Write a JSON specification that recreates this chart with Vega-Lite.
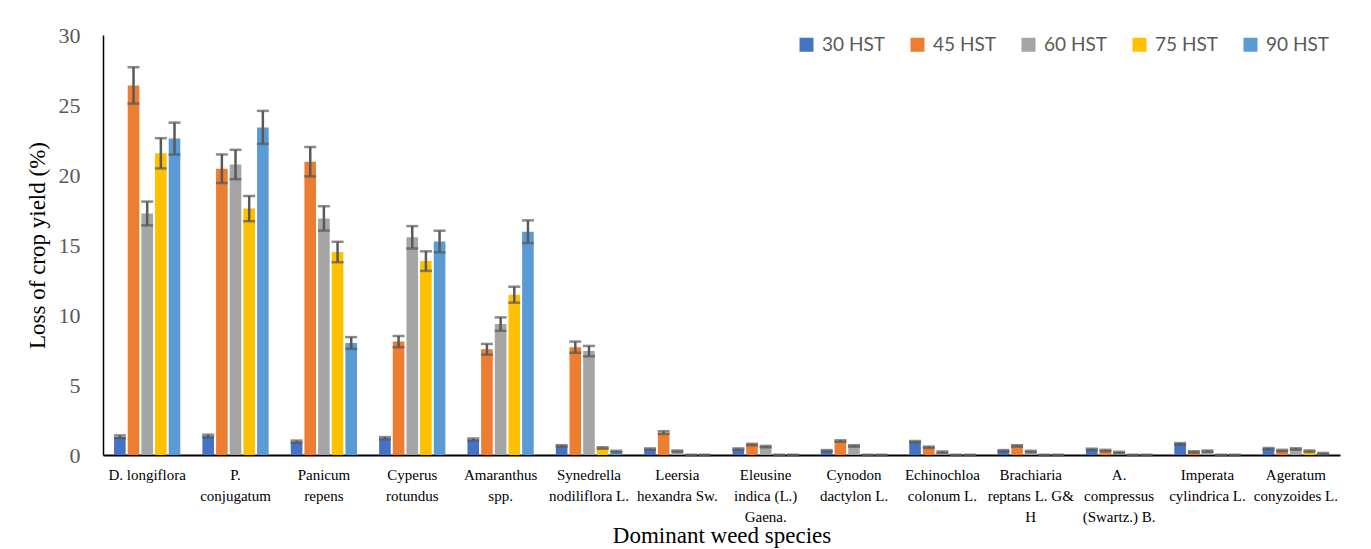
{
  "$schema": "https://vega.github.io/schema/vega-lite/v6.json",
  "width": 1237,
  "height": 420,
  "autosize": "none",
  "padding": {"left": 103, "top": 35, "right": 31, "bottom": 94},
  "background": "white",
  "config": {"view": {"stroke": null}, "axis": {"grid": false}},
  "data": {"values": [
    {"species": "D. longiflora", "stage": "30 HST", "value": 1.3, "lo": 1.2, "hi": 1.4},
    {"species": "D. longiflora", "stage": "45 HST", "value": 26.4, "lo": 25.1, "hi": 27.7},
    {"species": "D. longiflora", "stage": "60 HST", "value": 17.25, "lo": 16.4, "hi": 18.1},
    {"species": "D. longiflora", "stage": "75 HST", "value": 21.55, "lo": 20.47, "hi": 22.63},
    {"species": "D. longiflora", "stage": "90 HST", "value": 22.6, "lo": 21.46, "hi": 23.74},
    {"species": "P. conjugatum", "stage": "30 HST", "value": 1.35, "lo": 1.25, "hi": 1.45},
    {"species": "P. conjugatum", "stage": "45 HST", "value": 20.45, "lo": 19.43, "hi": 21.47},
    {"species": "P. conjugatum", "stage": "60 HST", "value": 20.75, "lo": 19.7, "hi": 21.8},
    {"species": "P. conjugatum", "stage": "75 HST", "value": 17.6, "lo": 16.7, "hi": 18.5},
    {"species": "P. conjugatum", "stage": "90 HST", "value": 23.4, "lo": 22.22, "hi": 24.58},
    {"species": "Panicum repens", "stage": "30 HST", "value": 0.95, "lo": 0.87, "hi": 1.03},
    {"species": "Panicum repens", "stage": "45 HST", "value": 20.95, "lo": 19.9, "hi": 22.0},
    {"species": "Panicum repens", "stage": "60 HST", "value": 16.9, "lo": 16.03, "hi": 17.77},
    {"species": "Panicum repens", "stage": "75 HST", "value": 14.5, "lo": 13.77, "hi": 15.23},
    {"species": "Panicum repens", "stage": "90 HST", "value": 8.0, "lo": 7.58, "hi": 8.42},
    {"species": "Cyperus rotundus", "stage": "30 HST", "value": 1.2, "lo": 1.12, "hi": 1.28},
    {"species": "Cyperus rotundus", "stage": "45 HST", "value": 8.1, "lo": 7.7, "hi": 8.5},
    {"species": "Cyperus rotundus", "stage": "60 HST", "value": 15.55, "lo": 14.75, "hi": 16.35},
    {"species": "Cyperus rotundus", "stage": "75 HST", "value": 13.85, "lo": 13.15, "hi": 14.55},
    {"species": "Cyperus rotundus", "stage": "90 HST", "value": 15.25, "lo": 14.48, "hi": 16.02},
    {"species": "Amaranthus spp.", "stage": "30 HST", "value": 1.1, "lo": 1.02, "hi": 1.18},
    {"species": "Amaranthus spp.", "stage": "45 HST", "value": 7.55, "lo": 7.17, "hi": 7.93},
    {"species": "Amaranthus spp.", "stage": "60 HST", "value": 9.35, "lo": 8.87, "hi": 9.83},
    {"species": "Amaranthus spp.", "stage": "75 HST", "value": 11.45, "lo": 10.88, "hi": 12.02},
    {"species": "Amaranthus spp.", "stage": "90 HST", "value": 15.95, "lo": 15.14, "hi": 16.76},
    {"species": "Synedrella nodiliflora L.", "stage": "30 HST", "value": 0.65, "lo": 0.6, "hi": 0.7},
    {"species": "Synedrella nodiliflora L.", "stage": "45 HST", "value": 7.7, "lo": 7.3, "hi": 8.1},
    {"species": "Synedrella nodiliflora L.", "stage": "60 HST", "value": 7.42, "lo": 7.05, "hi": 7.79},
    {"species": "Synedrella nodiliflora L.", "stage": "75 HST", "value": 0.5, "lo": 0.45, "hi": 0.55},
    {"species": "Synedrella nodiliflora L.", "stage": "90 HST", "value": 0.25, "lo": 0.2, "hi": 0.3},
    {"species": "Leersia hexandra Sw.", "stage": "30 HST", "value": 0.42, "lo": 0.37, "hi": 0.47},
    {"species": "Leersia hexandra Sw.", "stage": "45 HST", "value": 1.6, "lo": 1.5, "hi": 1.7},
    {"species": "Leersia hexandra Sw.", "stage": "60 HST", "value": 0.27, "lo": 0.22, "hi": 0.32},
    {"species": "Leersia hexandra Sw.", "stage": "75 HST", "value": 0, "lo": 0, "hi": 0},
    {"species": "Leersia hexandra Sw.", "stage": "90 HST", "value": 0, "lo": 0, "hi": 0},
    {"species": "Eleusine indica (L.) Gaena.", "stage": "30 HST", "value": 0.42, "lo": 0.37, "hi": 0.47},
    {"species": "Eleusine indica (L.) Gaena.", "stage": "45 HST", "value": 0.75, "lo": 0.7, "hi": 0.8},
    {"species": "Eleusine indica (L.) Gaena.", "stage": "60 HST", "value": 0.6, "lo": 0.55, "hi": 0.65},
    {"species": "Eleusine indica (L.) Gaena.", "stage": "75 HST", "value": 0, "lo": 0, "hi": 0},
    {"species": "Eleusine indica (L.) Gaena.", "stage": "90 HST", "value": 0, "lo": 0, "hi": 0},
    {"species": "Cynodon dactylon L.", "stage": "30 HST", "value": 0.3, "lo": 0.25, "hi": 0.35},
    {"species": "Cynodon dactylon L.", "stage": "45 HST", "value": 1.0, "lo": 0.95, "hi": 1.05},
    {"species": "Cynodon dactylon L.", "stage": "60 HST", "value": 0.65, "lo": 0.6, "hi": 0.7},
    {"species": "Cynodon dactylon L.", "stage": "75 HST", "value": 0, "lo": 0, "hi": 0},
    {"species": "Cynodon dactylon L.", "stage": "90 HST", "value": 0, "lo": 0, "hi": 0},
    {"species": "Echinochloa colonum L.", "stage": "30 HST", "value": 0.95, "lo": 0.9, "hi": 1.0},
    {"species": "Echinochloa colonum L.", "stage": "45 HST", "value": 0.55, "lo": 0.5, "hi": 0.6},
    {"species": "Echinochloa colonum L.", "stage": "60 HST", "value": 0.2, "lo": 0.15, "hi": 0.25},
    {"species": "Echinochloa colonum L.", "stage": "75 HST", "value": 0, "lo": 0, "hi": 0},
    {"species": "Echinochloa colonum L.", "stage": "90 HST", "value": 0, "lo": 0, "hi": 0},
    {"species": "Brachiaria reptans L. G& H", "stage": "30 HST", "value": 0.3, "lo": 0.25, "hi": 0.35},
    {"species": "Brachiaria reptans L. G& H", "stage": "45 HST", "value": 0.65, "lo": 0.6, "hi": 0.7},
    {"species": "Brachiaria reptans L. G& H", "stage": "60 HST", "value": 0.25, "lo": 0.2, "hi": 0.3},
    {"species": "Brachiaria reptans L. G& H", "stage": "75 HST", "value": 0, "lo": 0, "hi": 0},
    {"species": "Brachiaria reptans L. G& H", "stage": "90 HST", "value": 0, "lo": 0, "hi": 0},
    {"species": "A. compressus (Swartz.) B.", "stage": "30 HST", "value": 0.4, "lo": 0.35, "hi": 0.45},
    {"species": "A. compressus (Swartz.) B.", "stage": "45 HST", "value": 0.32, "lo": 0.27, "hi": 0.37},
    {"species": "A. compressus (Swartz.) B.", "stage": "60 HST", "value": 0.18, "lo": 0.13, "hi": 0.23},
    {"species": "A. compressus (Swartz.) B.", "stage": "75 HST", "value": 0, "lo": 0, "hi": 0},
    {"species": "A. compressus (Swartz.) B.", "stage": "90 HST", "value": 0, "lo": 0, "hi": 0},
    {"species": "Imperata cylindrica L.", "stage": "30 HST", "value": 0.8, "lo": 0.75, "hi": 0.85},
    {"species": "Imperata cylindrica L.", "stage": "45 HST", "value": 0.22, "lo": 0.17, "hi": 0.27},
    {"species": "Imperata cylindrica L.", "stage": "60 HST", "value": 0.27, "lo": 0.22, "hi": 0.32},
    {"species": "Imperata cylindrica L.", "stage": "75 HST", "value": 0, "lo": 0, "hi": 0},
    {"species": "Imperata cylindrica L.", "stage": "90 HST", "value": 0, "lo": 0, "hi": 0},
    {"species": "Ageratum conyzoides L.", "stage": "30 HST", "value": 0.45, "lo": 0.4, "hi": 0.5},
    {"species": "Ageratum conyzoides L.", "stage": "45 HST", "value": 0.32, "lo": 0.27, "hi": 0.37},
    {"species": "Ageratum conyzoides L.", "stage": "60 HST", "value": 0.43, "lo": 0.38, "hi": 0.48},
    {"species": "Ageratum conyzoides L.", "stage": "75 HST", "value": 0.27, "lo": 0.22, "hi": 0.32},
    {"species": "Ageratum conyzoides L.", "stage": "90 HST", "value": 0.1, "lo": 0.05, "hi": 0.15}
  ]},
  "encoding": {
    "x": {
      "field": "species", "type": "nominal", "sort": null,
      "scale": {"paddingInner": 0.25, "paddingOuter": 0.125},
      "axis": {
        "title": "Dominant weed species",
        "titleFont": "Liberation Serif", "titleFontSize": 23, "titleFontWeight": "normal", "titleColor": "black",
        "titleY": 80, "titleBaseline": "middle",
        "labelAngle": 0, "labelFont": "Liberation Serif", "labelFontSize": 15, "labelColor": "black",
        "labelLineHeight": 21, "labelPadding": 12, "labelBaseline": "top", "labelLimit": 200,
        "ticks": false, "domainColor": "black", "domainWidth": 2,
        "labelExpr": "datum.label == 'D. longiflora' ? datum.label : datum.label == 'Eleusine indica (L.) Gaena.' ? ['Eleusine', 'indica (L.)', 'Gaena.'] : datum.label == 'Brachiaria reptans L. G& H' ? ['Brachiaria', 'reptans L. G&', 'H'] : datum.label == 'A. compressus (Swartz.) B.' ? ['A.', 'compressus', '(Swartz.) B.'] : [substring(datum.label, 0, indexof(datum.label, ' ')), substring(datum.label, indexof(datum.label, ' ') + 1)]"
      }
    },
    "xOffset": {
      "field": "stage", "type": "nominal",
      "scale": {"domain": ["30 HST", "45 HST", "60 HST", "75 HST", "90 HST"], "paddingInner": 0.15, "paddingOuter": 0}
    }
  },
  "layer": [
    {
      "mark": {"type": "bar"},
      "encoding": {
        "y": {
          "field": "value", "type": "quantitative",
          "scale": {"domain": [0, 30]},
          "axis": {
            "title": "Loss of crop yield (%)", "values": [0, 5, 10, 15, 20, 25, 30],
            "titleFont": "Liberation Serif", "titleFontSize": 23, "titleFontWeight": "normal", "titleColor": "black",
            "titleX": -66, "titleY": 210, "titleAngle": -90, "titleBaseline": "middle", "titleAlign": "center",
            "labelFont": "Liberation Serif", "labelFontSize": 22, "labelColor": "#595959", "labelPadding": 23,
            "ticks": false, "domainColor": "black", "domainWidth": 1.5
          }
        },
        "color": {
          "field": "stage", "type": "nominal",
          "scale": {"domain": ["30 HST", "45 HST", "60 HST", "75 HST", "90 HST"], "range": ["#4472C4", "#ED7D31", "#A5A5A5", "#FFC000", "#5B9BD5"]},
          "legend": {
            "title": null, "orient": "none", "legendX": 694, "legendY": 0, "direction": "horizontal", "columns": 5,
            "symbolType": "square", "symbolSize": 196, "symbolStrokeWidth": 0, "labelFont": "Lato", "labelFontSize": 19, "labelColor": "#595959",
            "labelOffset": 6, "columnPadding": 23, "padding": 0
          }
        }
      }
    },
    {
      "mark": {"type": "rule", "color": "#595959", "strokeWidth": 2.5},
      "encoding": {
        "y": {"field": "lo", "type": "quantitative"},
        "y2": {"field": "hi"}
      }
    },
    {
      "mark": {"type": "tick", "color": "#595959", "thickness": 2.5, "size": 12},
      "encoding": {"y": {"field": "lo", "type": "quantitative"}}
    },
    {
      "mark": {"type": "tick", "color": "#595959", "thickness": 2.5, "size": 12},
      "encoding": {"y": {"field": "hi", "type": "quantitative"}}
    }
  ]
}
